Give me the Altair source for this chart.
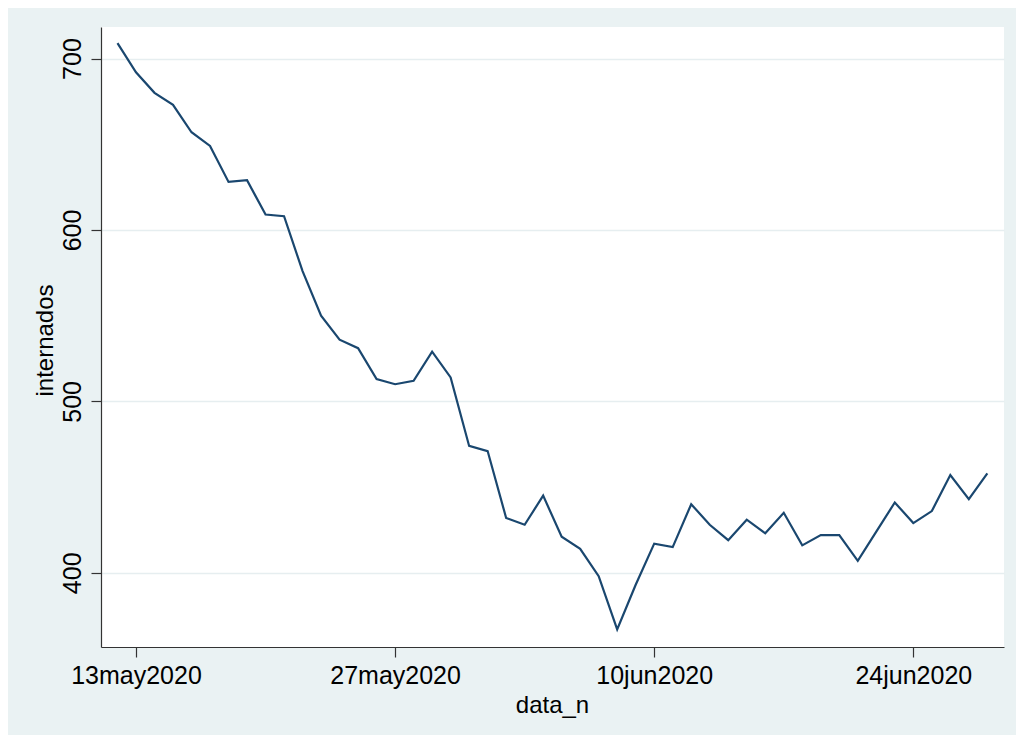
import altair as alt
import pandas as pd

dates = pd.date_range("2020-05-12", periods=48, freq="D")
internados = [709, 692, 680, 673, 657, 649, 628, 629, 609, 608,
              576, 550, 536, 531, 513, 510, 512, 529, 514, 474,
              471, 432, 428, 445, 421, 414, 398, 367, 393, 417,
              415, 440, 428, 419, 431, 423, 435, 416, 422, 422,
              407, 424, 441, 429, 436, 457, 443, 458]
y_ticks = [400, 500, 600, 700]
x_ticks = ["2020-05-13", "2020-05-27", "2020-06-10", "2020-06-24"]

df = pd.DataFrame({"data_n": dates.strftime("%Y-%m-%d"), "internados": internados})

def dt(s, h=0, mi=0):
    y, m, d = (int(v) for v in s.split("-"))
    return alt.DateTime(year=y, month=m, date=d, hours=h, minutes=mi, utc=True)

FONT = "Liberation Sans"

chart = alt.Chart(df).mark_line(color="#1A476F", strokeWidth=2.2).encode(
    x=alt.X("data_n:T",
            scale=alt.Scale(type="utc", domain=[dt("2020-05-11", 2, 37), dt("2020-06-28", 21, 37)]),
            axis=alt.Axis(values=[dt(s) for s in x_ticks],
                          labelExpr="lower(utcFormat(datum.value, '%d%b%Y'))",
                          grid=False, tickSize=10, labelPadding=26,
                          labelBaseline="alphabetic", labelAlign="center",
                          labelFontSize=25, labelFont=FONT, labelColor="#000000",
                          title="data_n", titleFontSize=24, titleFont=FONT,
                          titleFontWeight="normal", titleColor="#000000",
                          titleBaseline="alphabetic", titleY=65, titleX=451,
                          titleAlign="center",
                          domainColor="#333333", tickColor="#333333",
                          domainWidth=1.2, tickWidth=1.2)),
    y=alt.Y("internados:Q",
            scale=alt.Scale(domain=[356.7, 718.4], nice=False, zero=False),
            axis=alt.Axis(values=y_ticks, grid=True, gridColor="#E6EEF0", gridWidth=1.3,
                          tickSize=10, labelPadding=11, labelAngle=270,
                          labelAlign="center", labelBaseline="alphabetic",
                          labelFontSize=25, labelFont=FONT, labelColor="#000000",
                          title="internados", titleFontSize=24, titleFont=FONT,
                          titleFontWeight="normal", titleColor="#000000",
                          titleAngle=270, titleBaseline="alphabetic",
                          titleAlign="center", titleX=-49, titleY=313,
                          domainColor="#333333", tickColor="#333333",
                          domainWidth=1.2, tickWidth=1.2)),
).properties(
    width=903, height=620,
    autosize=alt.AutoSizeParams(type="none"),
    padding={"left": 93, "top": 19, "right": 12, "bottom": 88},
    background="#EAF2F3",
).configure_view(fill="#FFFFFF", stroke=None)

chart.save("out.html", embed_options={"renderer": "svg", "actions": False})
